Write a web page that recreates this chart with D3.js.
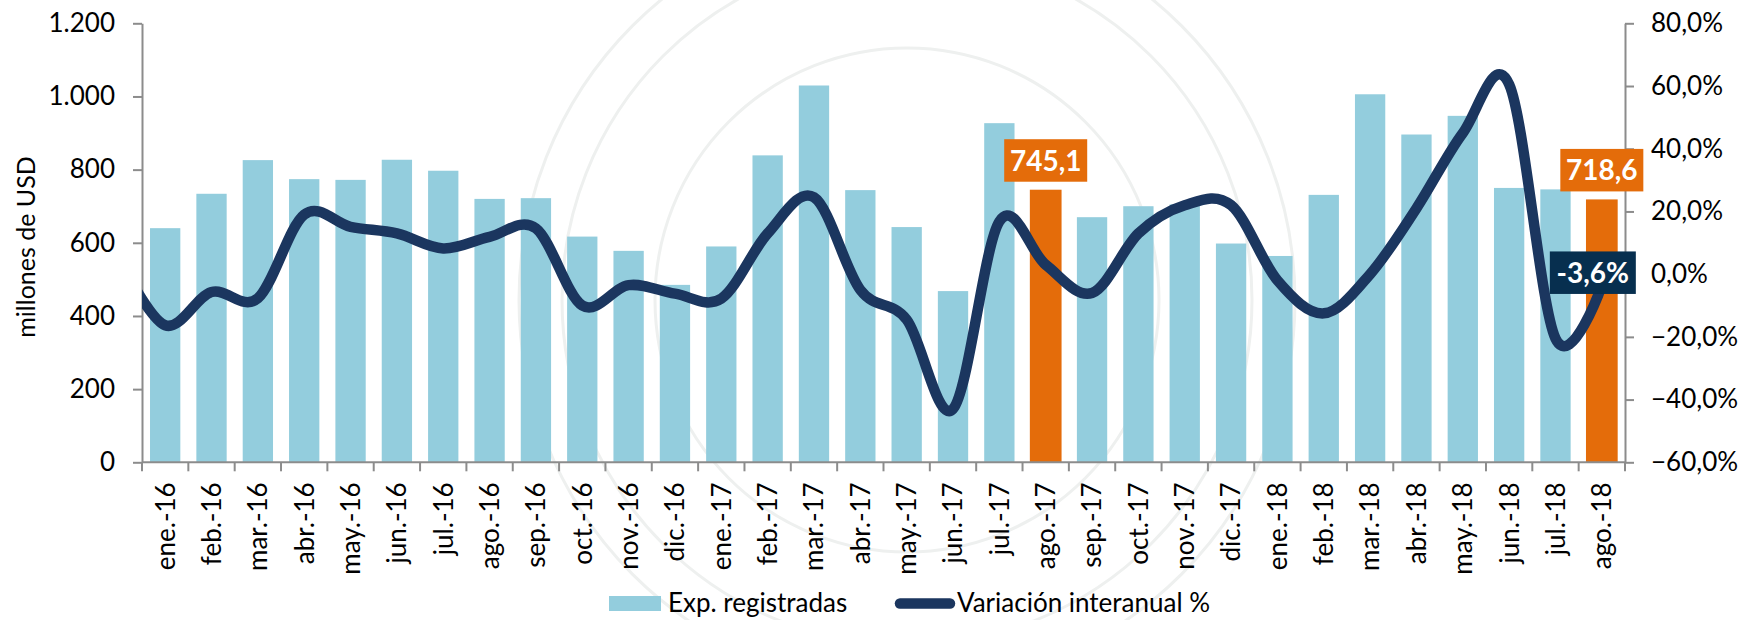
<!DOCTYPE html>
<html>
<head>
<meta charset="utf-8">
<script src="https://cdn.jsdelivr.net/npm/d3@7"></script>
<style>
  html, body { margin: 0; padding: 0; background: #ffffff; }
  svg { display: block; font-family: Lato, "Open Sans", "DejaVu Sans", sans-serif; }
</style>
</head>
<body>
<svg id="chart" width="1744" height="620"></svg>
<script>
// ---------------- data ----------------
const months = ["ene.-16","feb.-16","mar.-16","abr.-16","may.-16","jun.-16","jul.-16","ago.-16","sep.-16","oct.-16","nov.-16","dic.-16",
                "ene.-17","feb.-17","mar.-17","abr.-17","may.-17","jun.-17","jul.-17","ago.-17","sep.-17","oct.-17","nov.-17","dic.-17",
                "ene.-18","feb.-18","mar.-18","abr.-18","may.-18","jun.-18","jul.-18","ago.-18"];
const exportsValues = [640,734,826,774,772,827,797,720,722,617,578,485,
                       590,839,1030,744,643,468,927,745.1,670,700,705,598,
                       564,731,1006,896,947,750,746,718.6];
const variation = [-16.3,-5.7,-7.7,19,15.1,13,8.2,11.9,14.6,-10,-3.5,-6.2,
                   -7.8,13,24.5,-5,-14.5,-43,16.8,3,-6,13,22,22,
                   -2,-12.5,0,21,45,60.5,-20.5,-3.6];
const leadVariation = 5;          // dic.-15 value, only its segment toward ene.-16 is visible
const highlighted = ["ago.-17","ago.-18"];
const leftTicks = [0,200,400,600,800,1000,1200];
const rightTicks = [-60,-40,-20,0,20,40,60,80];
const seriesNames = ["Exp. registradas","Variación interanual %"];
const yTitle = "millones de USD";
const barLabels = [{m:"ago.-17", text:"745,1"}, {m:"ago.-18", text:"718,6"}];
const lineLabel = {m:"ago.-18", text:"-3,6%"};

// ---------------- layout ----------------
const W = 1744, H = 620;
const plot = {left:142, right:1625, top:23.3, bottom:462.3};
const C = {bar:"#93cddd", orange:"#e46c0a", line:"#1b365f", lab:"#072f4f", axis:"#8c8c8c", text:"#000000", wm:"#eef0ef"};

const loc = d3.formatLocale({decimal:",", thousands:".", grouping:[3], currency:["",""]});
const fmtL = loc.format(",");
const fmt1 = loc.format(".1f");

const svg = d3.select("#chart");
svg.append("rect").attr("width",W).attr("height",H).attr("fill","#fff");

// ---------------- watermark (faint seal rings) ----------------
const wm = svg.append("g").attr("fill","none").attr("stroke",C.wm);
const cx0 = 907, cy0 = 300;
[[388,3],[345,3],[252,3]].forEach(([r,w]) => wm.append("circle").attr("cx",cx0).attr("cy",cy0).attr("r",r).attr("stroke-width",w));
const defs = svg.append("defs");

// ---------------- scales ----------------
const pad = 0.346;
const x = d3.scaleBand().domain(months).range([plot.left, plot.right]).paddingInner(pad).paddingOuter(pad/2);
const yL = d3.scaleLinear().domain([0,1200]).range([plot.bottom, plot.top]);
const yR = d3.scaleLinear().domain([-60,80]).range([plot.bottom, plot.top]);
const cxOf = m => x(m) + x.bandwidth()/2;

// ---------------- bars ----------------
svg.append("g").selectAll("rect").data(months).join("rect")
  .attr("x", m => highlighted.includes(m) ? x(m) - 0.7 : x(m))
  .attr("width", m => highlighted.includes(m) ? x.bandwidth() + 1.4 : x.bandwidth())
  .attr("y", (m,i) => yL(exportsValues[i]))
  .attr("height", (m,i) => yL(0) - yL(exportsValues[i]))
  .attr("fill", m => highlighted.includes(m) ? C.orange : C.bar);

// ---------------- axes ----------------
const axisStyle = g => {
  g.attr("font-size", null).attr("font-family", null);
  g.select(".domain").attr("stroke", C.axis).attr("stroke-width", 2);
  g.selectAll(".tick line").attr("stroke", C.axis).attr("stroke-width", 2);
  g.selectAll("text").attr("fill", C.text).style("font-size","26px").style("font-family","Lato, sans-serif");
};
svg.append("g").attr("transform",`translate(${plot.left},0)`)
  .call(d3.axisLeft(yL).tickValues(leftTicks).tickFormat(fmtL).tickSize(9).tickSizeOuter(0).tickPadding(18))
  .call(axisStyle);
svg.append("g").attr("transform",`translate(${plot.right},0)`)
  .call(d3.axisRight(yR).tickValues(rightTicks).tickFormat(v => fmt1(v) + "%").tickSize(9).tickSizeOuter(0).tickPadding(17))
  .call(axisStyle);

// x axis: labels at band centres, ticks at band boundaries
const xg = svg.append("g").attr("transform",`translate(0,${plot.bottom})`)
  .call(d3.axisBottom(x).tickSize(0).tickSizeOuter(0).tickPadding(0))
  .call(axisStyle);
xg.select(".domain").attr("d", `M${plot.left},0H${plot.right}`);
xg.selectAll(".tick text")
  .attr("transform","rotate(-90)").attr("x",-20).attr("y",0).attr("dy","0.36em")
  .style("text-anchor","end");
const step = x.step(), gapHalf = (x.step() - x.bandwidth())/2;
const bounds = months.map(m => x(m) - gapHalf).concat([x(months[months.length-1]) + x.bandwidth() + gapHalf]);
xg.append("g").selectAll("line").data(bounds).join("line")
  .attr("x1", d => d).attr("x2", d => d).attr("y1", 0).attr("y2", 9)
  .attr("stroke", C.axis).attr("stroke-width", 2);

// y title
svg.append("text").attr("transform", `translate(35,247) rotate(-90)`)
  .attr("text-anchor","middle").attr("fill",C.text).style("font-size","25px").text(yTitle);

// ---------------- line ----------------
defs.append("clipPath").attr("id","plotClip").append("rect")
  .attr("x", plot.left).attr("y", 0).attr("width", plot.right - plot.left).attr("height", H);
const pts = [[cxOf(months[0]) - step, yR(leadVariation)]].concat(months.map((m,i) => [cxOf(m), yR(variation[i])]));
svg.append("path").attr("clip-path","url(#plotClip)")
  .attr("d", d3.line().curve(d3.curveCardinal.tension(0))(pts))
  .attr("fill","none").attr("stroke",C.line).attr("stroke-width",10.5)
  .attr("stroke-linejoin","round").attr("stroke-linecap","round");

// ---------------- data labels ----------------
barLabels.forEach(b => {
  const i = months.indexOf(b.m);
  const g = svg.append("g");
  g.append("rect").attr("x", cxOf(b.m) - 41.5).attr("width", 83)
    .attr("y", yL(exportsValues[i]) - 50.5).attr("height", 42.5).attr("fill", C.orange);
  g.append("text").attr("x", cxOf(b.m)).attr("y", yL(exportsValues[i]) - 29)
    .attr("text-anchor","middle").attr("dy","0.36em").attr("fill","#fff")
    .style("font-size","28px").style("font-weight","bold").text(b.text);
});
{
  const i = months.indexOf(lineLabel.m);
  const lx = cxOf(lineLabel.m) - 9, ly = yR(variation[i]) - 13;
  const g = svg.append("g");
  g.append("rect").attr("x", lx - 43).attr("y", ly - 21).attr("width", 86).attr("height", 42.5).attr("fill", C.lab);
  g.append("text").attr("x", lx).attr("y", ly).attr("dy","0.36em").attr("text-anchor","middle")
    .attr("fill","#fff").style("font-size","28px").style("font-weight","bold").text(lineLabel.text);
}

// ---------------- legend ----------------
const lg = svg.append("g");
lg.append("rect").attr("x",609).attr("y",596).attr("width",52).attr("height",15).attr("fill",C.bar);
lg.append("text").attr("x",668).attr("y",612).attr("fill",C.text).style("font-size","26px").text(seriesNames[0]);
lg.append("line").attr("x1",900).attr("x2",950).attr("y1",603.5).attr("y2",603.5)
  .attr("stroke",C.line).attr("stroke-width",10.5).attr("stroke-linecap","round");
lg.append("text").attr("x",957).attr("y",612).attr("fill",C.text).style("font-size","26px").text(seriesNames[1]);
</script>
</body>
</html>
